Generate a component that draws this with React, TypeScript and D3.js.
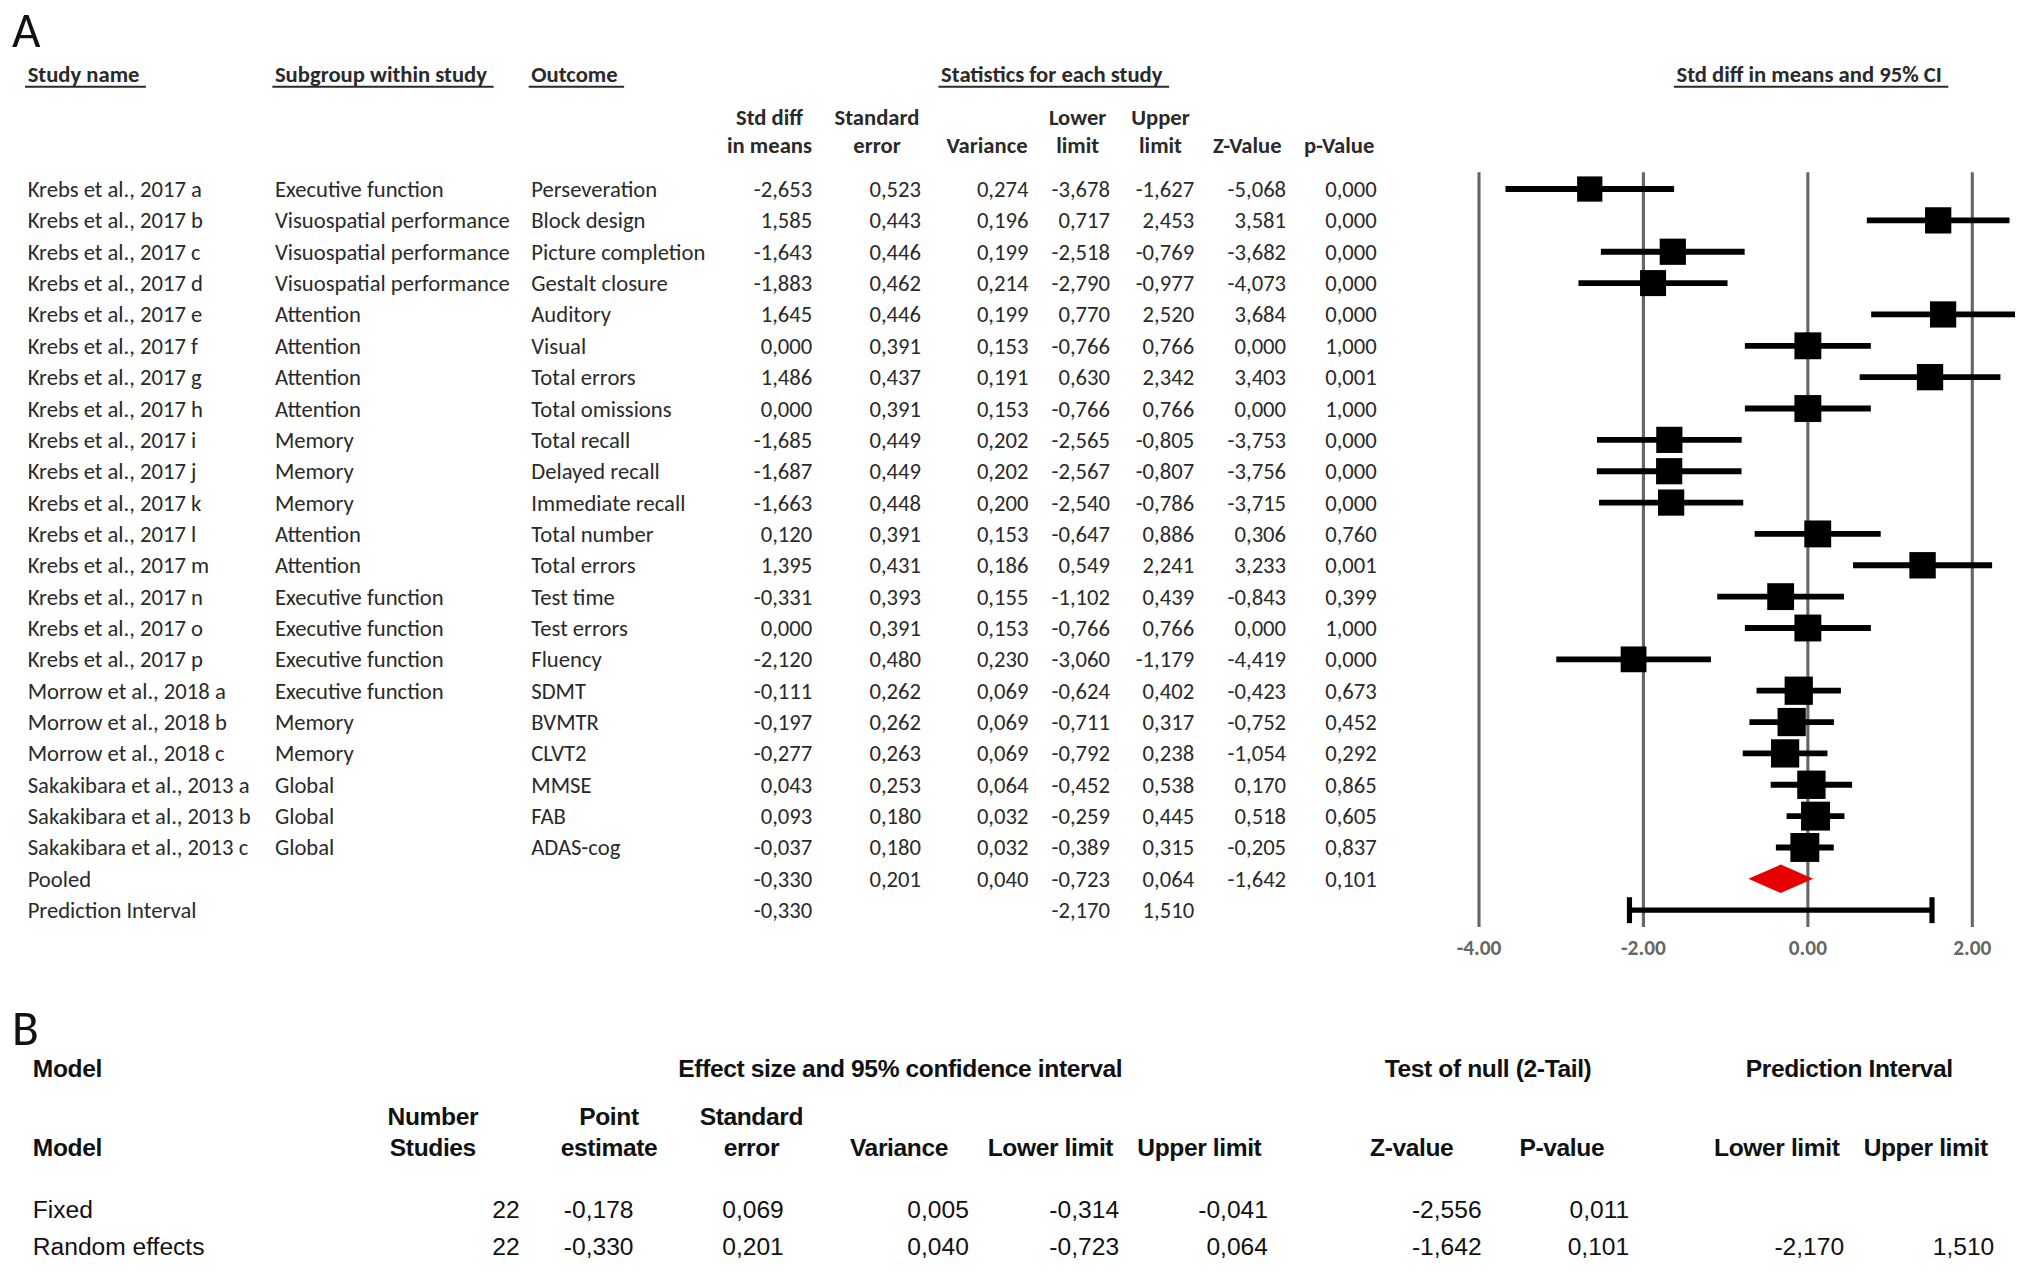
import React, { useEffect, useRef } from 'react';
import * as d3 from 'd3';

// drawing units follow the figure as laid out at 1568 x 984, scaled to the window by the viewBox
const W = 1568;
const H = 984;

const studyNames = [
  'Krebs et al., 2017 a', 'Krebs et al., 2017 b', 'Krebs et al., 2017 c', 'Krebs et al., 2017 d',
  'Krebs et al., 2017 e', 'Krebs et al., 2017 f', 'Krebs et al., 2017 g', 'Krebs et al., 2017 h',
  'Krebs et al., 2017 i', 'Krebs et al., 2017 j', 'Krebs et al., 2017 k', 'Krebs et al., 2017 l',
  'Krebs et al., 2017 m', 'Krebs et al., 2017 n', 'Krebs et al., 2017 o', 'Krebs et al., 2017 p',
  'Morrow et al., 2018 a', 'Morrow et al., 2018 b', 'Morrow et al., 2018 c',
  'Sakakibara et al., 2013 a', 'Sakakibara et al., 2013 b', 'Sakakibara et al., 2013 c',
];
const subgroups = [
  'Executive function', 'Visuospatial performance', 'Visuospatial performance', 'Visuospatial performance',
  'Attention', 'Attention', 'Attention', 'Attention',
  'Memory', 'Memory', 'Memory', 'Attention',
  'Attention', 'Executive function', 'Executive function', 'Executive function',
  'Executive function', 'Memory', 'Memory',
  'Global', 'Global', 'Global',
];
const outcomes = [
  'Perseveration', 'Block design', 'Picture completion', 'Gestalt closure',
  'Auditory', 'Visual', 'Total errors', 'Total omissions',
  'Total recall', 'Delayed recall', 'Immediate recall', 'Total number',
  'Total errors', 'Test time', 'Test errors', 'Fluency',
  'SDMT', 'BVMTR', 'CLVT2',
  'MMSE', 'FAB', 'ADAS-cog',
];
const stdDiff = [-2.653, 1.585, -1.643, -1.883, 1.645, 0.0, 1.486, 0.0, -1.685, -1.687, -1.663, 0.12, 1.395, -0.331, 0.0, -2.12, -0.111, -0.197, -0.277, 0.043, 0.093, -0.037];
const stdErr = [0.523, 0.443, 0.446, 0.462, 0.446, 0.391, 0.437, 0.391, 0.449, 0.449, 0.448, 0.391, 0.431, 0.393, 0.391, 0.48, 0.262, 0.262, 0.263, 0.253, 0.18, 0.18];
const variance = [0.274, 0.196, 0.199, 0.214, 0.199, 0.153, 0.191, 0.153, 0.202, 0.202, 0.2, 0.153, 0.186, 0.155, 0.153, 0.23, 0.069, 0.069, 0.069, 0.064, 0.032, 0.032];
const lowerLimit = [-3.678, 0.717, -2.518, -2.79, 0.77, -0.766, 0.63, -0.766, -2.565, -2.567, -2.54, -0.647, 0.549, -1.102, -0.766, -3.06, -0.624, -0.711, -0.792, -0.452, -0.259, -0.389];
const upperLimit = [-1.627, 2.453, -0.769, -0.977, 2.52, 0.766, 2.342, 0.766, -0.805, -0.807, -0.786, 0.886, 2.241, 0.439, 0.766, -1.179, 0.402, 0.317, 0.238, 0.538, 0.445, 0.315];
const zValue = [-5.068, 3.581, -3.682, -4.073, 3.684, 0.0, 3.403, 0.0, -3.753, -3.756, -3.715, 0.306, 3.233, -0.843, 0.0, -4.419, -0.423, -0.752, -1.054, 0.17, 0.518, -0.205];
const pValue = [0.0, 0.0, 0.0, 0.0, 0.0, 1.0, 0.001, 1.0, 0.0, 0.0, 0.0, 0.76, 0.001, 0.399, 1.0, 0.0, 0.673, 0.452, 0.292, 0.865, 0.605, 0.837];

// pooled row: estimate, se, variance, lower, upper, z, p
const pooled = [-0.33, 0.201, 0.04, -0.723, 0.064, -1.642, 0.101];
// prediction interval row: estimate, lower, upper
const prediction = [-0.33, -2.17, 1.51];
// between-study variance (estimate), only used to size the squares
const TAU2 = 0.738;

const axisTicks = [-4, -2, 0, 2];

// panel B
const modelNames = ['Fixed', 'Random effects'];
const modelN = [22, 22];
const modelPoint = [-0.178, -0.33];
const modelSE = [0.069, 0.201];
const modelVar = [0.005, 0.04];
const modelLower = [-0.314, -0.723];
const modelUpper = [-0.041, 0.064];
const modelZ = [-2.556, -1.642];
const modelP = [0.011, 0.101];
const modelPILower: (number | null)[] = [null, -2.17];
const modelPIUpper: (number | null)[] = [null, 1.51];

const FONT_A = 'Carlito, Calibri, Lato, sans-serif';
const FONT_B = '"Liberation Sans", Arial, sans-serif';
const SIZE_A = 17.5;

const commaFmt = d3.formatLocale({ decimal: ',', thousands: '.', grouping: [3], currency: ['', ''], minus: '-' }).format('.3f');
const tickFmt = d3.formatLocale({ decimal: '.', thousands: ',', grouping: [3], currency: ['', ''], minus: '-' }).format('.2f');

const App: React.FC = () => {
  const svgRef = useRef<SVGSVGElement>(null);

  useEffect(() => {
    if (!svgRef.current) return;
    const svg = d3.select(svgRef.current);
    svg.selectAll('*').remove();

    svg.append('rect').attr('width', W).attr('height', H).attr('fill', '#fff');

    // ---------- Panel A ----------
    const a = svg.append('g').attr('font-family', FONT_A).attr('fill', '#2a2a2a');

    a.append('text').attr('x', 9).attr('y', 36).attr('font-size', 38).attr('fill', '#111').text('A');

    const rows = d3.range(studyNames.length + 2);
    const y = d3.scaleLinear().domain([0, rows.length - 1]).range([146, 703]);

    // underlined group headers
    const headers = [
      { text: 'Study name', x: 21, anchor: 'start' },
      { text: 'Subgroup within study', x: 212, anchor: 'start' },
      { text: 'Outcome', x: 410, anchor: 'start' },
      { text: 'Statistics for each study', x: 812, anchor: 'middle' },
      { text: 'Std diff in means and 95% CI', x: 1397, anchor: 'middle' },
    ];
    headers.forEach(h => {
      const t = a.append('text')
        .attr('x', h.x).attr('y', 57)
        .attr('dominant-baseline', 'central')
        .attr('text-anchor', h.anchor)
        .attr('font-size', SIZE_A)
        .attr('font-weight', 'bold')
        .text(h.text);
      const bb = (t.node() as SVGTextElement).getBBox();
      a.append('line')
        .attr('x1', bb.x - 2).attr('x2', bb.x + bb.width + 5)
        .attr('y1', 67).attr('y2', 67)
        .attr('stroke', '#2a2a2a').attr('stroke-width', 1.6);
    });

    // numeric columns: header centre and right edge of values
    const statCols = [
      { head: ['Std diff', 'in means'], cx: 594, right: 627 },
      { head: ['Standard', 'error'], cx: 677, right: 711 },
      { head: ['', 'Variance'], cx: 762, right: 794 },
      { head: ['Lower', 'limit'], cx: 832, right: 857 },
      { head: ['Upper', 'limit'], cx: 896, right: 922 },
      { head: ['', 'Z-Value'], cx: 963, right: 993 },
      { head: ['', 'p-Value'], cx: 1034, right: 1063 },
    ];
    statCols.forEach(c => {
      c.head.forEach((line, k) => {
        if (!line) return;
        a.append('text')
          .attr('x', c.cx).attr('y', k === 0 ? 90 : 112)
          .attr('dominant-baseline', 'central')
          .attr('text-anchor', 'middle')
          .attr('font-size', SIZE_A)
          .attr('font-weight', 'bold')
          .text(line);
      });
    });

    const studyCols = [stdDiff, stdErr, variance, lowerLimit, upperLimit, zValue, pValue];
    const rowG = a.append('g').attr('font-size', SIZE_A);

    studyNames.forEach((name, i) => {
      const yy = y(i);
      rowG.append('text').attr('x', 21).attr('y', yy).attr('dominant-baseline', 'central').text(name);
      rowG.append('text').attr('x', 212).attr('y', yy).attr('dominant-baseline', 'central').text(subgroups[i]);
      rowG.append('text').attr('x', 410).attr('y', yy).attr('dominant-baseline', 'central').text(outcomes[i]);
      studyCols.forEach((col, k) => {
        rowG.append('text')
          .attr('x', statCols[k].right).attr('y', yy)
          .attr('dominant-baseline', 'central')
          .attr('text-anchor', 'end')
          .text(commaFmt(col[i]));
      });
    });

    const pooledRow = studyNames.length;
    const predRow = studyNames.length + 1;
    rowG.append('text').attr('x', 21).attr('y', y(pooledRow)).attr('dominant-baseline', 'central').text('Pooled');
    pooled.forEach((v, k) => {
      rowG.append('text')
        .attr('x', statCols[k].right).attr('y', y(pooledRow))
        .attr('dominant-baseline', 'central').attr('text-anchor', 'end')
        .text(commaFmt(v));
    });
    rowG.append('text').attr('x', 21).attr('y', y(predRow)).attr('dominant-baseline', 'central').text('Prediction Interval');
    [0, 3, 4].forEach((k, j) => {
      rowG.append('text')
        .attr('x', statCols[k].right).attr('y', y(predRow))
        .attr('dominant-baseline', 'central').attr('text-anchor', 'end')
        .text(commaFmt(prediction[j]));
    });

    // forest plot
    const x = d3.scaleLinear().domain([-4, 2]).range([1142, 1523]);
    const plot = a.append('g');

    plot.selectAll('.grid')
      .data(axisTicks)
      .enter()
      .append('line')
      .attr('class', 'grid')
      .attr('x1', d => x(d)).attr('x2', d => x(d))
      .attr('y1', 133).attr('y2', 716)
      .attr('stroke', '#666')
      .attr('stroke-width', 2.4);

    plot.selectAll('.tick-label')
      .data(axisTicks)
      .enter()
      .append('text')
      .attr('class', 'tick-label')
      .attr('x', d => x(d)).attr('y', 732)
      .attr('text-anchor', 'middle')
      .attr('dominant-baseline', 'central')
      .attr('font-size', 16.5)
      .attr('font-weight', 'bold')
      .attr('fill', '#666')
      .text(d => tickFmt(d));

    plot.selectAll('.ci')
      .data(studyNames.map((_, i) => i))
      .enter()
      .append('line')
      .attr('class', 'ci')
      .attr('x1', i => x(lowerLimit[i])).attr('x2', i => x(upperLimit[i]))
      .attr('y1', i => y(i)).attr('y2', i => y(i))
      .attr('stroke', '#000')
      .attr('stroke-width', 4.5);

    // square area follows the random-effects weight
    const side = (i: number) => 19.6 * Math.sqrt(1 / (variance[i] + TAU2));
    plot.selectAll('.box')
      .data(studyNames.map((_, i) => i))
      .enter()
      .append('rect')
      .attr('class', 'box')
      .attr('x', i => x(stdDiff[i]) - side(i) / 2)
      .attr('y', i => y(i) - side(i) / 2)
      .attr('width', i => side(i))
      .attr('height', i => side(i))
      .attr('fill', '#000');

    const py = y(pooledRow);
    plot.append('path')
      .attr('d', `M${x(pooled[3])},${py} L${x(pooled[0])},${py - 11} L${x(pooled[4])},${py} L${x(pooled[0])},${py + 11} Z`)
      .attr('fill', '#e60000');

    const qy = y(predRow);
    plot.append('line')
      .attr('x1', x(prediction[1])).attr('x2', x(prediction[2]))
      .attr('y1', qy).attr('y2', qy)
      .attr('stroke', '#000').attr('stroke-width', 4);
    [prediction[1], prediction[2]].forEach(v => {
      plot.append('line')
        .attr('x1', x(v)).attr('x2', x(v))
        .attr('y1', qy - 10).attr('y2', qy + 10)
        .attr('stroke', '#000').attr('stroke-width', 4);
    });

    // ---------- Panel B ----------
    svg.append('text').attr('x', 9).attr('y', 807).attr('font-family', FONT_A).attr('font-size', 38).attr('fill', '#111').text('B');

    const b = svg.append('g').attr('font-family', FONT_B).attr('font-size', 19).attr('fill', '#111');

    const bBold = (txt: string, xx: number, yy: number, anchor = 'middle') =>
      b.append('text')
        .attr('x', xx).attr('y', yy)
        .attr('text-anchor', anchor)
        .attr('dominant-baseline', 'central')
        .attr('font-weight', 'bold')
        .attr('letter-spacing', -0.3)
        .text(txt);

    bBold('Model', 25, 825, 'start');
    bBold('Effect size and 95% confidence interval', 695, 825);
    bBold('Test of null (2-Tail)', 1149, 825);
    bBold('Prediction Interval', 1428, 825);
    bBold('Model', 25, 886, 'start');

    const modelCols = [
      { head: ['Number', 'Studies'], cx: 334, right: 401, vals: modelN as (number | null)[], int: true },
      { head: ['Point', 'estimate'], cx: 470, right: 489, vals: modelPoint },
      { head: ['Standard', 'error'], cx: 580, right: 605, vals: modelSE },
      { head: ['', 'Variance'], cx: 694, right: 748, vals: modelVar },
      { head: ['', 'Lower limit'], cx: 811, right: 864, vals: modelLower },
      { head: ['', 'Upper limit'], cx: 926, right: 979, vals: modelUpper },
      { head: ['', 'Z-value'], cx: 1090, right: 1144, vals: modelZ },
      { head: ['', 'P-value'], cx: 1206, right: 1258, vals: modelP },
      { head: ['', 'Lower limit'], cx: 1372, right: 1424, vals: modelPILower },
      { head: ['', 'Upper limit'], cx: 1487, right: 1540, vals: modelPIUpper },
    ];
    const modelY = [934, 963];

    modelCols.forEach(c => {
      c.head.forEach((line, k) => {
        if (line) bBold(line, c.cx, k === 0 ? 862 : 886);
      });
      c.vals.forEach((v, r) => {
        if (v === null) return;
        b.append('text')
          .attr('x', c.right).attr('y', modelY[r])
          .attr('text-anchor', 'end')
          .attr('dominant-baseline', 'central')
          .text(c.int ? String(v) : commaFmt(v));
      });
    });

    modelNames.forEach((name, r) => {
      b.append('text')
        .attr('x', 25).attr('y', modelY[r])
        .attr('dominant-baseline', 'central')
        .text(name);
    });
  }, []);

  return (
    <svg
      ref={svgRef}
      width={2031}
      height={1274}
      viewBox={`0 0 ${W} ${H}`}
      style={{ position: 'absolute', left: 0, top: 0, display: 'block' }}
    />
  );
};

export default App;
